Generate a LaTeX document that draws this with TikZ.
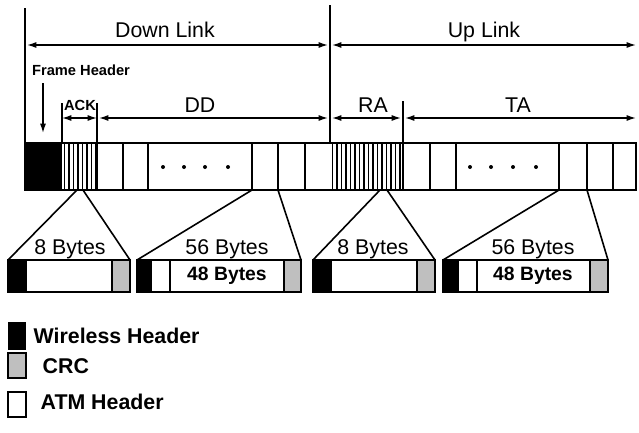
\documentclass[tikz,border=0pt]{standalone}
\usepackage{fontspec}
\setmainfont{Liberation Sans}
\usetikzlibrary{arrows.meta}

\begin{document}
\begin{tikzpicture}[x=0.75pt, y=-0.75pt,
  big/.style={font=\fontsize{16}{19}\selectfont, anchor=base},
  small/.style={font=\bfseries\fontsize{11}{13}\selectfont, anchor=base},
  dim/.style={{Latex[length=7pt,width=4.5pt]}-{Latex[length=7pt,width=4.5pt]}, line width=1pt},
  bar/.style={line width=2pt},
  sep/.style={line width=1.5pt},
  fan/.style={line width=1.2pt},
  crc/.style={fill=black!25}]
\useasboundingbox (0,0) rectangle (639,432);

% limits of the two links
\coordinate (l0) at (25,45);
\coordinate (l1) at (330,45);
\coordinate (l2) at (636,45);
\draw[line width=1.2pt] (25,8) -- (25,143);
\draw[line width=1.2pt] (330,5) -- (330,143);
\draw[dim] ([xshift=1.5pt]l0) -- ([xshift=-1.5pt]l1);
\draw[dim] ([xshift=1.5pt]l1) -- (l2);
\node[big] (dl) at (165,37) {Down Link};
\node[big] (ul) at (484,37) {Up Link};

% field ticks
\coordinate (a0) at (62,118);
\coordinate (a1) at (97,118);
\coordinate (d1) at (330,118);
\coordinate (r1) at (403,118);
\coordinate (t1) at (636,118);
\draw[line width=1pt] (62,103) -- (62,143);
\draw[line width=1pt] (97,103) -- (97,143);
\draw[line width=1pt] (403,101) -- (403,143);
\draw[dim] (a0) -- (a1);
\draw[dim] ([xshift=1.5pt]a1) -- ([xshift=-1.5pt]d1);
\draw[dim] ([xshift=1.5pt]d1) -- ([xshift=-1.5pt]r1);
\draw[dim] ([xshift=1.5pt]r1) -- (t1);
\node[small] (ack) at (80,110) {ACK};
\node[big] (dd) at (200,112) {DD};
\node[big] (ra) at (373,112) {RA};
\node[big] (ta) at (518,112) {TA};

\node[small] (fh) at (81,75) {Frame Header};
\coordinate (fhtip) at (43,133);
\draw[-{Latex[length=7pt,width=4.5pt]}, line width=1pt] (43,83) -- (fhtip);

% frame
\fill (25,143) rectangle (62,190);
\foreach \x in {64.5,69,...,96} \draw[line width=1.4pt] (\x,143) -- (\x,190);
\foreach \x in {332.5,337,...,402} \draw[line width=1.4pt] (\x,143) -- (\x,190);
\foreach \x in {97,123,148,252,278,305,403,430,456,559,587,613}
  \draw[sep] (\x,143) -- (\x,190);
\draw[bar] (25,143) rectangle (636,190);
\foreach \x in {163,184,205,228,470,491,513,536}
  \fill (\x,167) circle (2);

% expanded cells
\draw[bar, fill=white] (8,260) rectangle (130,292);
\fill (8,260) rectangle (27,292);
\draw[sep, crc] (112,260) rectangle (130,292);
\node[big] (b8d) at (70,254) {8 Bytes};

\draw[bar, fill=white] (137,260) rectangle (301,292);
\fill (137,260) rectangle (152,292);
\draw[sep] (170,260) -- (170,292);
\draw[sep, crc] (284,260) rectangle (301,292);
\node[big] (b56d) at (227,254) {56 Bytes};
\node[font=\bfseries\fontsize{14.5}{17}\selectfont] (b48d) at (227,276) {48 Bytes};

\draw[bar, fill=white] (313,260) rectangle (435,292);
\fill (313,260) rectangle (332,292);
\draw[sep, crc] (417,260) rectangle (435,292);
\node[big] (b8u) at (373,254) {8 Bytes};

\draw[bar, fill=white] (443,260) rectangle (608,292);
\fill (443,260) rectangle (459,292);
\draw[sep] (477,260) -- (477,292);
\draw[sep, crc] (590,260) rectangle (608,292);
\node[big] (b56u) at (533,254) {56 Bytes};
\node[font=\bfseries\fontsize{14.5}{17}\selectfont] (b48u) at (533,276) {48 Bytes};

% fan lines
\draw[fan] (8,260) -- (77,190) (130,260) -- (83,190);
\draw[fan] (137,260) -- (252,190) (301,260) -- (278,190);
\draw[fan] (313,260) -- (380,190) (435,260) -- (387,190);
\draw[fan] (443,260) -- (559,190) (608,260) -- (587,190);

% legend
\fill (8,322) rectangle (26,350);
\node[font=\bfseries\fontsize{16}{19}\selectfont, anchor=west] (lw) at (29,336) {Wireless Header};
\draw[sep, crc] (8,353) rectangle (26,378);
\node[font=\bfseries\fontsize{16}{19}\selectfont, anchor=west] (lc) at (38,366) {CRC};
\draw[sep] (8,392) rectangle (26,417);
\node[font=\bfseries\fontsize{16}{19}\selectfont, anchor=west] (la) at (36,402) {ATM Header};
\end{tikzpicture}
\end{document}
